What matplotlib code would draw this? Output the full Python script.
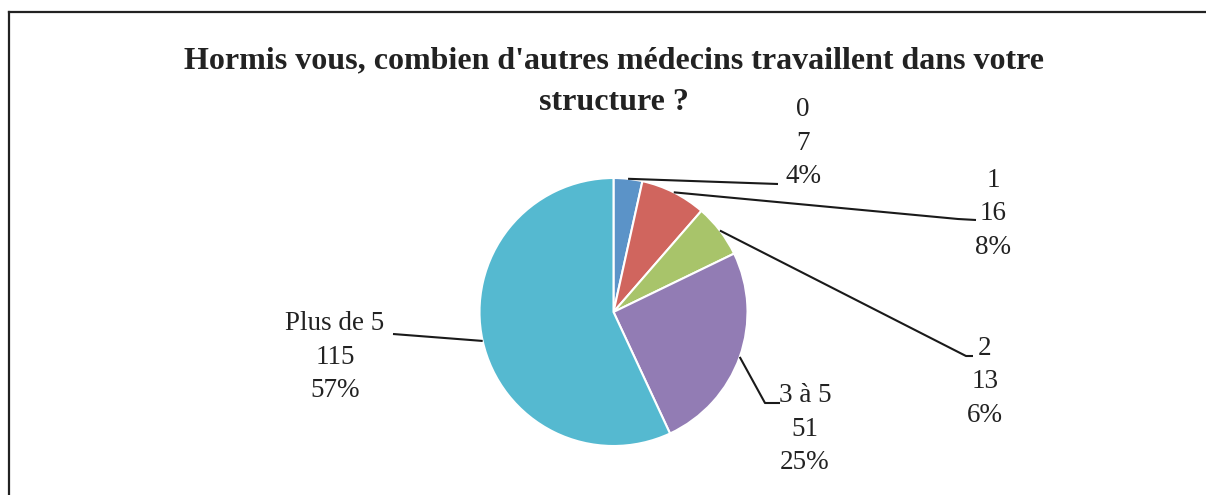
import numpy as np
import matplotlib
matplotlib.use("Agg")
import matplotlib.pyplot as plt
from matplotlib.lines import Line2D

# ---- data ----
categories = ["0", "1", "2", "3 à 5", "Plus de 5"]
counts = [7, 16, 13, 51, 115]
percent_labels = ["4%", "8%", "6%", "25%", "57%"]
title_lines = ["Hormis vous, combien d'autres médecins travaillent dans votre",
               "structure ?"]

# ---- style / layout ----
colors = ["#5B93C8", "#D0655E", "#A8C46A", "#927CB4", "#55B9D0"]
W, H = 1206, 495
cx, cy, r = 613.5, H - 312, 134
# label text centre (pixels, y from top) and leader end (pixels)
label_pos = [(803, 143), (993, 214), (985, 382), (805, 429), (335, 357)]
leader_end = [(778, 184), (976, 220), (973, 356), (780, 403), (393, 334)]
leader_knee = [None, (958, 219), (966, 356), (765, 403), None]

fig = plt.figure(figsize=(W / 100, H / 100), dpi=100)
ax = fig.add_axes([0, 0, 1, 1])

wedges, _ = ax.pie(counts, colors=colors, startangle=90, counterclock=False,
                   center=(cx, cy), radius=r,
                   wedgeprops=dict(edgecolor="white", linewidth=1.5))
ax.set_xlim(0, W)
ax.set_ylim(0, H)
ax.set_aspect("equal")
ax.axis("off")

total = float(sum(counts))
start = 90.0
for i, c in enumerate(counts):
    span = 360.0 * c / total
    ang = np.deg2rad(start - 0.5 * span)
    start -= span
    pts = [(cx + r * np.cos(ang), cy + r * np.sin(ang))]
    if leader_knee[i] is not None:
        kx, ky = leader_knee[i]
        pts.append((kx, H - ky))
    ex, ey = leader_end[i]
    pts.append((ex, H - ey))
    xs, ys = zip(*pts)
    ax.plot(xs, ys, color="#1a1a1a", lw=1.5, solid_capstyle="butt")
    lx, ly = label_pos[i]
    ax.text(lx, H - ly, f"{categories[i]}\n{counts[i]}\n{percent_labels[i]}",
            ha="center", va="center", fontsize=19.5, family="Liberation Serif",
            color="#222222", linespacing=1.45)

for line, ty in zip(title_lines, [61, 103]):
    fig.text(614 / W, 1 - ty / H, line, ha="center", va="center",
             fontsize=23, fontweight="bold", family="Liberation Serif",
             color="#222222")

# frame (left and top edges)
fig.add_artist(Line2D([9 / W, 9 / W], [0, 1 - 12 / H], color="#222222", lw=1.6,
                      transform=fig.transFigure))
fig.add_artist(Line2D([9 / W, 1], [1 - 12 / H, 1 - 12 / H], color="#222222", lw=1.6,
                      transform=fig.transFigure))

fig.savefig("out.png", dpi=100, facecolor="white")
